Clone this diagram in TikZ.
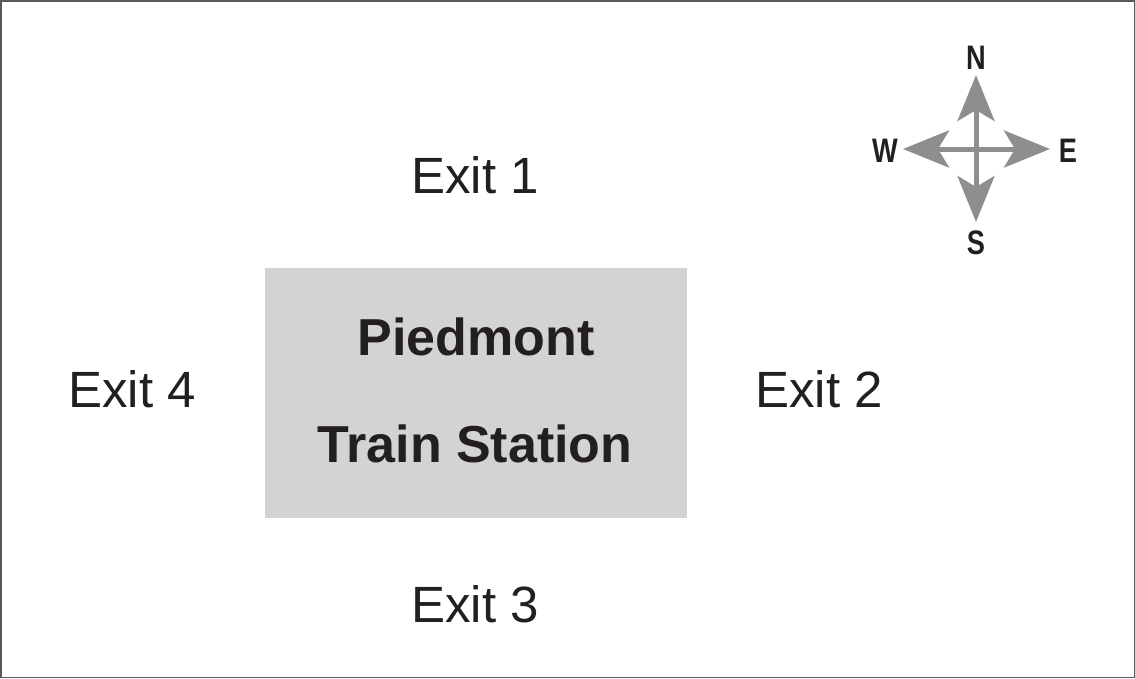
\documentclass[tikz,border=0pt]{standalone}
\usepackage{fontspec}
\setmainfont{Liberation Sans}
\usetikzlibrary{arrows.meta}
\definecolor{boxgray}{HTML}{D3D3D3}
\definecolor{arrowgray}{HTML}{8E8E8E}
\definecolor{textblack}{HTML}{231F20}
\begin{document}
\begin{tikzpicture}[x=1pt,y=-1pt,
  exit/.style={anchor=base west,inner sep=0pt,text=textblack,font=\fontsize{51}{60}\selectfont},
  title/.style={anchor=base,inner sep=0pt,text=textblack,font=\bfseries\fontsize{52}{60}\selectfont},
  dirlabel/.style={inner sep=0pt,text=textblack,font=\bfseries\fontsize{34}{34}\selectfont},
  comparrow/.style={draw=arrowgray,line width=5pt,{Stealth[length=46pt,width=37pt,inset=11pt,fill=arrowgray]}-{Stealth[length=46pt,width=37pt,inset=11pt,fill=arrowgray]}}]
\useasboundingbox (0,0) rectangle (1135,678);
\draw[line width=1.5pt,draw=black!65] (0.75,0.75) rectangle (1134.25,677.25);
% station
\node[draw=none,fill=boxgray,minimum width=422pt,minimum height=250pt,inner sep=0pt] (station) at (476,393) {};
\node[title] (t1) at (476,355) {Piedmont};
\node[title] (t2) at (475,462) {Train Station};
% exits
\node[exit] (e1) at (411,193) {Exit 1};
\node[exit] (e2) at (755,407) {Exit 2};
\node[exit] (e3) at (411,622) {Exit 3};
\node[exit] (e4) at (68,407) {Exit 4};
% compass
\coordinate (cN) at (976,75);
\coordinate (cS) at (976,222);
\coordinate (cW) at (903,149);
\coordinate (cE) at (1050,149);
\draw[comparrow] (cN) -- (cS);
\draw[comparrow] (cW) -- (cE);
\node[dirlabel,anchor=base] (lN) at (976,69) {\scalebox{0.8}[1]{N}};
\node[dirlabel,anchor=base] (lS) at (976,254) {\scalebox{0.8}[1]{S}};
\node[dirlabel,anchor=base] (lW) at (885,162) {\scalebox{0.8}[1]{W}};
\node[dirlabel,anchor=base] (lE) at (1068,162) {\scalebox{0.8}[1]{E}};
\end{tikzpicture}
\end{document}
